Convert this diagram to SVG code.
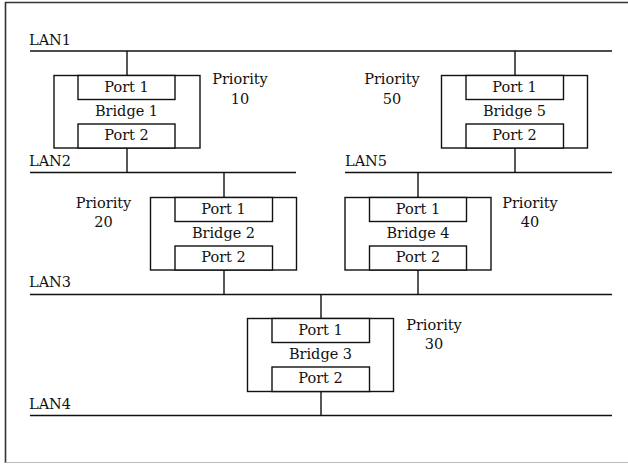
<svg xmlns="http://www.w3.org/2000/svg" width="628" height="464" viewBox="0 0 628 464">
  <style>
    text { font-family: "DejaVu Serif", "Liberation Serif", serif; font-size: 14.5px; fill: #111; }
    .mid { text-anchor: middle; }
    .lan { stroke: #111; stroke-width: 1.6; fill: none; }
    .wire { stroke: #111; stroke-width: 1.4; fill: none; }
    .box { stroke: #111; stroke-width: 1.4; fill: #fff; }
  </style>
  <rect width="628" height="464" fill="#fff"/>
  <!-- page frame -->
  <path d="M5.5 463 V2.5 H628" fill="none" stroke="#333" stroke-width="1.6"/>
  <path d="M5.5 462.5 H628" fill="none" stroke="#bbb" stroke-width="1.2"/>

  <g id="lans">
    <path class="lan" d="M30 51 H612"/>
    <text x="29" y="45">LAN1</text>
    <path class="lan" d="M30 172.5 H296"/>
    <text x="29" y="166">LAN2</text>
    <path class="lan" d="M345 172.5 H612"/>
    <text x="345" y="166">LAN5</text>
    <path class="lan" d="M30 294.5 H612"/>
    <text x="29" y="287">LAN3</text>
    <path class="lan" d="M30 415.5 H612"/>
    <text x="29" y="409">LAN4</text>
  </g>

  <g id="connectors">
    <path class="wire" d="M127 51 V75.5 M127 148 V172.5"/>
    <path class="wire" d="M515 51 V75.5 M515 148 V172.5"/>
    <path class="wire" d="M224 172.5 V197.5 M224 270 V294.5"/>
    <path class="wire" d="M418 172.5 V197.5 M418 270 V294.5"/>
    <path class="wire" d="M321 294.5 V318.5 M321 391.5 V415.5"/>
  </g>

  <g id="bridge1">
    <rect class="box" x="54" y="75.5" width="146" height="72.5"/>
    <rect class="box" x="78" y="75.5" width="97" height="24"/>
    <rect class="box" x="78" y="124" width="97" height="24"/>
    <text class="mid" x="126.5" y="92">Port 1</text>
    <text class="mid" x="126.5" y="116">Bridge 1</text>
    <text class="mid" x="126.5" y="140">Port 2</text>
    <text class="mid" x="240" y="84">Priority</text>
    <text class="mid" x="240" y="104">10</text>
  </g>

  <g id="bridge5">
    <rect class="box" x="441.5" y="75.5" width="146" height="72.5"/>
    <rect class="box" x="466" y="75.5" width="97.5" height="24"/>
    <rect class="box" x="466" y="124" width="97.5" height="24"/>
    <text class="mid" x="514.5" y="92">Port 1</text>
    <text class="mid" x="514.5" y="116">Bridge 5</text>
    <text class="mid" x="514.5" y="140">Port 2</text>
    <text class="mid" x="392" y="84">Priority</text>
    <text class="mid" x="392" y="104">50</text>
  </g>

  <g id="bridge2">
    <rect class="box" x="150.5" y="197.5" width="146" height="72.5"/>
    <rect class="box" x="175" y="197.5" width="97.5" height="24"/>
    <rect class="box" x="175" y="246" width="97.5" height="24"/>
    <text class="mid" x="223.5" y="214">Port 1</text>
    <text class="mid" x="223.5" y="238">Bridge 2</text>
    <text class="mid" x="223.5" y="262">Port 2</text>
    <text class="mid" x="103.5" y="208">Priority</text>
    <text class="mid" x="103.5" y="227">20</text>
  </g>

  <g id="bridge4">
    <rect class="box" x="345" y="197.5" width="146" height="72.5"/>
    <rect class="box" x="369.5" y="197.5" width="97" height="24"/>
    <rect class="box" x="369.5" y="246" width="97" height="24"/>
    <text class="mid" x="418" y="214">Port 1</text>
    <text class="mid" x="418" y="238">Bridge 4</text>
    <text class="mid" x="418" y="262">Port 2</text>
    <text class="mid" x="530" y="208">Priority</text>
    <text class="mid" x="530" y="227">40</text>
  </g>

  <g id="bridge3">
    <rect class="box" x="247.5" y="318.5" width="146" height="73"/>
    <rect class="box" x="272" y="318.5" width="97.5" height="24"/>
    <rect class="box" x="272" y="367" width="97.5" height="24.5"/>
    <text class="mid" x="320.5" y="335">Port 1</text>
    <text class="mid" x="320.5" y="359">Bridge 3</text>
    <text class="mid" x="320.5" y="383">Port 2</text>
    <text class="mid" x="434" y="330">Priority</text>
    <text class="mid" x="434" y="349">30</text>
  </g>
</svg>
